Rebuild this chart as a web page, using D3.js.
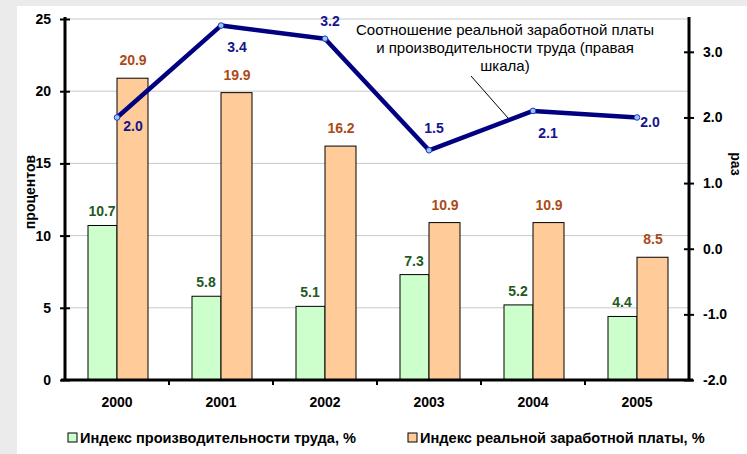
<!DOCTYPE html>
<html><head><meta charset="utf-8">
<script src="https://cdn.jsdelivr.net/npm/d3@7"></script>
<style>body{margin:0;background:#ebebeb;}svg{display:block;font-family:Arial,"Liberation Sans",sans-serif;}</style>
</head><body>
<svg id="c" width="747" height="454"></svg>
<script>
const years = ["2000","2001","2002","2003","2004","2005"];
const productivity = [10.7, 5.8, 5.1, 7.3, 5.2, 4.4];
const realWage = [20.9, 19.9, 16.2, 10.9, 10.9, 8.5];
const ratio = [2.0, 3.4, 3.2, 1.5, 2.1, 2.0];
const leftTicks = [0, 5, 10, 15, 20, 25];
const rightTicks = [-2, -1, 0, 1, 2, 3];
const seriesNames = ["Индекс производительности труда, %", "Индекс реальной заработной платы, %"];
const annotation = ["Соотношение реальной заработной платы", "и производительности труда (правая", "шкала)"];

const svg = d3.select("#c");
svg.append("rect").attr("x",17).attr("y",6).attr("width",730).attr("height",448).attr("fill","#fff");

const L = 65, R = 689, T = 19, B = 380;
const x = d3.scaleBand().domain(years).range([L, R]);
const yL = d3.scaleLinear().domain([0, 25]).range([B, T]);
const yR = d3.scaleLinear().domain([-2, 3.5]).range([B, T]);

// gridlines
svg.append("g").selectAll("line").data(leftTicks.filter(d=>d>0)).join("line")
  .attr("x1",L).attr("x2",R).attr("y1",d=>yL(d)).attr("y2",d=>yL(d))
  .attr("stroke","#c8c8c8").attr("stroke-width",1);

const bw = 30;
const cx = d => x(d) + x.bandwidth()/2;
svg.append("g").selectAll("rect").data(years).join("rect")
  .attr("x", d=>cx(d)-bw+1).attr("width", bw-1)
  .attr("y", (d,i)=>yL(productivity[i])).attr("height",(d,i)=>B-yL(productivity[i]))
  .attr("fill","#ccffcc").attr("stroke","#000").attr("stroke-width",1);
svg.append("g").selectAll("rect").data(years).join("rect")
  .attr("x", d=>cx(d)).attr("width", bw+1)
  .attr("y", (d,i)=>yL(realWage[i])).attr("height",(d,i)=>B-yL(realWage[i]))
  .attr("fill","#ffcc99").attr("stroke","#000").attr("stroke-width",1);

// bar labels
svg.append("g").selectAll("text").data(years).join("text")
  .attr("x", d=>cx(d)-bw/2).attr("y",(d,i)=>yL(productivity[i])-9)
  .attr("text-anchor","middle").attr("font-size",14).attr("font-weight","bold").attr("fill","#1f5a1f")
  .text((d,i)=>productivity[i].toFixed(1));
svg.append("g").selectAll("text").data(years).join("text")
  .attr("x", d=>cx(d)+bw/2+1).attr("y",(d,i)=>yL(realWage[i])-13)
  .attr("text-anchor","middle").attr("font-size",14).attr("font-weight","bold").attr("fill","#ac4a17")
  .text((d,i)=>realWage[i].toFixed(1));

// axes
const fmtR = d => d3.format(".1f")(d).replace("\u2212","-");
const axL = svg.append("g").attr("transform",`translate(${L},0)`)
  .call(d3.axisLeft(yL).tickValues(leftTicks).tickSizeInner(5).tickSizeOuter(0).tickPadding(9));
const axR = svg.append("g").attr("transform",`translate(${R},0)`)
  .call(d3.axisRight(yR).tickValues(rightTicks).tickFormat(fmtR).tickSizeInner(5).tickSizeOuter(0).tickPadding(9));
const axB = svg.append("g").attr("transform",`translate(0,${B})`)
  .call(d3.axisBottom(x).tickSize(0).tickPadding(17));
[axL,axR,axB].forEach(a=>{
  a.select(".domain").attr("stroke","#000").attr("stroke-width",3);
  a.selectAll("text").attr("font-size",14).attr("font-weight","bold").attr("fill","#000").attr("font-family","Arial, 'Liberation Sans', sans-serif");
  a.selectAll(".tick line").attr("stroke","#000").attr("stroke-width",2);
});
axL.select(".domain").attr("d",`M0,${T-2}V${B+1}`);
axR.select(".domain").attr("d",`M0,${T-2}V${B+1}`);
axB.select(".domain").attr("d",`M${L-4},0H${R+4}`);
axL.selectAll(".tick line").attr("x1",5).attr("x2",-5);
axR.selectAll(".tick line").attr("x1",-5).attr("x2",5);
axB.selectAll("text").attr("dy","0.71em");
// category boundary ticks
svg.append("g").selectAll("line").data(years.slice(1)).join("line")
  .attr("x1",d=>x(d)).attr("x2",d=>x(d)).attr("y1",B-1).attr("y2",B+5)
  .attr("stroke","#000").attr("stroke-width",2);

// axis titles
svg.append("text").attr("transform",`translate(35,192) rotate(-90)`).attr("text-anchor","middle")
  .attr("font-size",14).attr("font-weight","bold").text("процентов");
svg.append("text").attr("transform",`translate(731,164) rotate(90)`).attr("text-anchor","middle")
  .attr("font-size",14).attr("font-weight","bold").text("раз");

// line
const line = d3.line().x(d=>cx(d[0])).y(d=>yR(d[1]));
const pts = years.map((d,i)=>[d, ratio[i]]);
svg.append("path").datum(pts).attr("d",line).attr("fill","none").attr("stroke","#000080").attr("stroke-width",4.5).attr("stroke-linejoin","round");
svg.append("g").selectAll("circle").data(pts).join("circle")
  .attr("cx",d=>cx(d[0])).attr("cy",d=>yR(d[1])).attr("r",2.8)
  .attr("fill","#9cc3ff").attr("stroke","#1a3fb0").attr("stroke-width",1);
const off = [[16,14],[16,26],[5,-13],[5,-17],[15,27],[13,10]];
svg.append("g").selectAll("text").data(pts).join("text")
  .attr("x",(d,i)=>cx(d[0])+off[i][0]).attr("y",(d,i)=>yR(d[1])+off[i][1])
  .attr("text-anchor","middle").attr("font-size",14).attr("font-weight","bold").attr("fill","#14148c")
  .text(d=>d[1].toFixed(1));

// annotation
svg.append("g").selectAll("text").data(annotation).join("text")
  .attr("x",505).attr("y",(d,i)=>35+i*18).attr("text-anchor","middle").attr("font-size",15).attr("fill","#000").text(d=>d);
svg.append("line").attr("x1",471).attr("y1",76).attr("x2",508).attr("y2",118).attr("stroke","#000").attr("stroke-width",1);

// legend
const lg = svg.append("g");
const lx = [68, 408];
lg.selectAll("rect").data(seriesNames).join("rect")
  .attr("x",(d,i)=>lx[i]).attr("y",433).attr("width",9).attr("height",9)
  .attr("fill",(d,i)=>i?"#ffcc99":"#ccffcc").attr("stroke","#000").attr("stroke-width",1);
lg.selectAll("text").data(seriesNames).join("text")
  .attr("x",(d,i)=>lx[i]+12).attr("y",443).attr("font-size",14.6).attr("font-weight","bold").text(d=>d);
</script>
</body></html>
